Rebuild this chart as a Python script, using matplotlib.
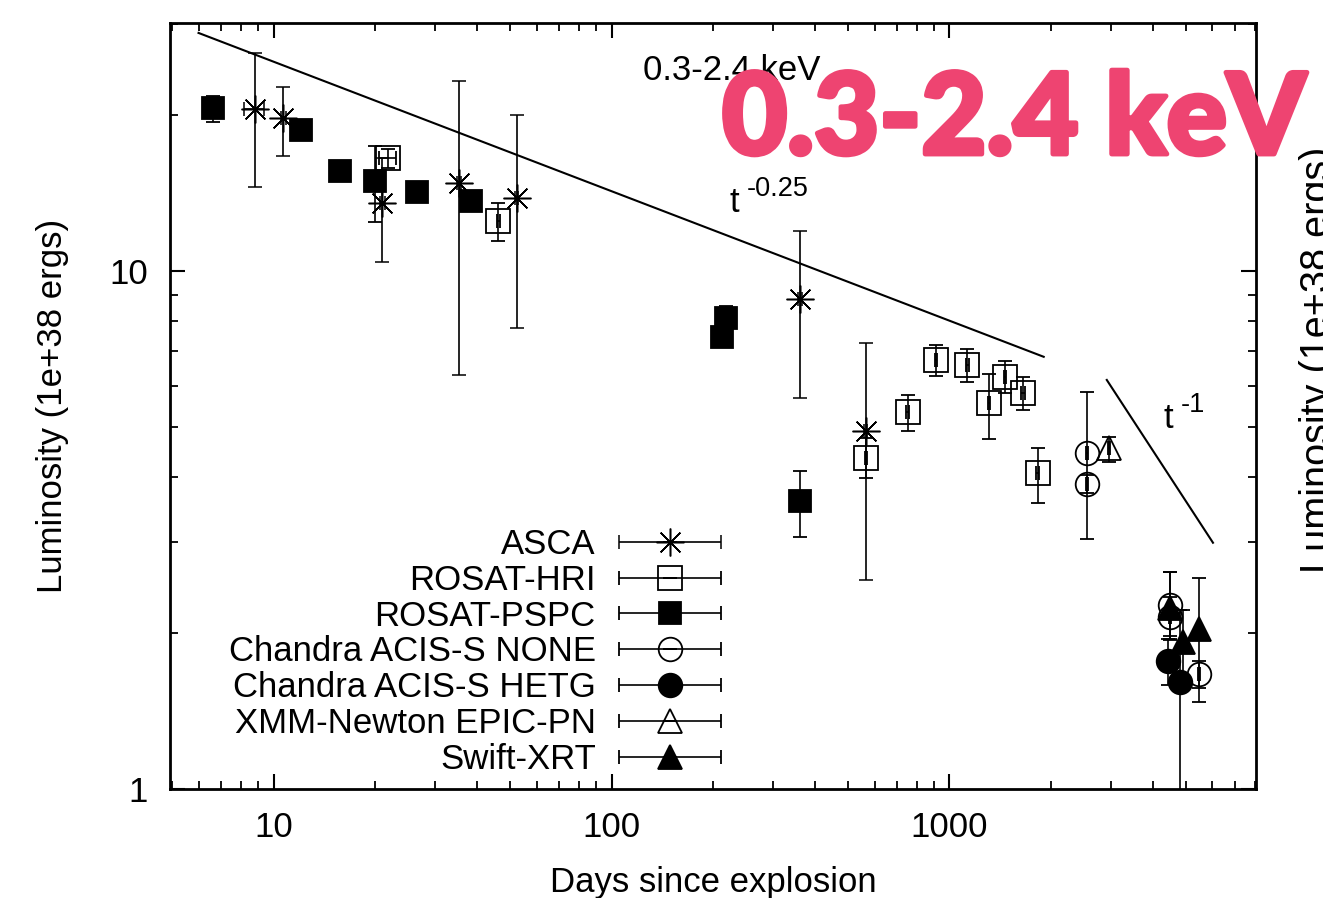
import numpy as np
import matplotlib
matplotlib.use("Agg")
import matplotlib.pyplot as plt
import matplotlib.patheffects as pe
from matplotlib.container import ErrorbarContainer
from matplotlib.legend_handler import HandlerErrorbar
from matplotlib.ticker import FixedLocator, FixedFormatter, LogLocator, NullFormatter

plt.rcParams["font.family"] = ["Liberation Sans", "DejaVu Sans"]

# ---- light curve data: days since explosion, luminosity (1e38 erg/s) ----
asca_days = [8.8, 10.7, 21.0, 35.4, 52.4, 361, 565]
asca_lum = [20.5, 19.7, 13.5, 14.8, 13.85, 8.83, 4.90]
asca_lo = [6.0, 3.0, 3.1, 8.5, 6.1, 3.15, 2.37]
asca_hi = [5.9, 2.9, 3.0, 8.5, 6.15, 3.12, 2.35]
asca_derr = [0.6, 0.2, 0.3, 0.4, 0.5, 4, 6]

hri_days = [21.8, 46.2, 565, 752, 912, 1128, 1311, 1458, 1652, 1823]
hri_lum = [16.5, 12.5, 4.35, 5.35, 6.73, 6.58, 5.55, 6.25, 5.81, 4.07]
hri_lo = [0.7, 1.1, 0.37, 0.43, 0.46, 0.47, 0.81, 0.45, 0.42, 0.50]
hri_hi = [0.7, 1.0, 0.40, 0.42, 0.46, 0.48, 0.77, 0.45, 0.44, 0.49]
hri_derr = [1.3, 0.5, 4, 6, 8, 12, 10, 12, 20, 15]

pspc_days = [6.6, 12.1, 15.75, 19.95, 26.5, 38.4, 211.7, 217.6, 361]
pspc_lum = [20.6, 18.7, 15.6, 14.9, 14.2, 13.65, 7.47, 8.10, 3.59]
pspc_lo = [1.2, 0.3, 0.3, 2.45, 0.3, 0.3, 0.2, 0.3, 0.52]
pspc_hi = [1.2, 0.3, 0.3, 2.5, 0.3, 0.3, 0.2, 0.45, 0.52]
pspc_derr = [0.1, 0.2, 0.2, 0.3, 0.3, 0.4, 2, 2, 3]

none_days = [2555, 2555, 4487, 4480, 5470]
none_lum = [4.46, 3.88, 2.27, 2.15, 1.67]
none_lo = [1.42, 0.15, 0.30, 0.20, 0.10]
none_hi = [1.37, 0.15, 0.35, 0.20, 0.10]
none_derr = [20, 20, 30, 30, 30]

hetg_days = [4436, 4805]
hetg_lum = [1.77, 1.61]
hetg_lo = [0.18, 1.20]
hetg_hi = [0.18, 0.61]
hetg_derr = [30, 30]

xmm_days = [2973]
xmm_lum = [4.55]
xmm_lo = [0.27]
xmm_hi = [0.23]
xmm_derr = [20]

swift_days = [4487, 4894, 5470]
swift_lum = [2.24, 1.92, 2.04]
swift_lo = [0.30, 0.30, 0.57]
swift_hi = [0.38, 0.30, 0.52]
swift_derr = [30, 30, 30]

# power-law guides
early_norm, early_t0, early_index = 28.8, 6.0, -0.25
early_days = np.array([6.0, 1900.0])
late_norm, late_t0, late_index = 6.16, 2920.0, -1.0
late_days = np.array([2920.0, 6020.0])

x_ticks = [10, 100, 1000]
x_ticklabels = ["10", "100", "1000"]
y_ticks = [1, 10]
y_ticklabels = ["1", "10"]

FS = 25

fig = plt.figure(figsize=(13.23, 8.98), dpi=100)
ax = fig.add_axes([170 / 1323, 1 - 789 / 898, (1256 - 170) / 1323, (789 - 23) / 898])
ax.set_xscale("log")
ax.set_yscale("log")
ax.set_xlim(4.94, 8070)
ax.set_ylim(1, 30.1)

common = dict(linestyle="none", ecolor="black", elinewidth=1.2, capsize=5,
              capthick=1.2, color="black", markeredgewidth=1.3)

series = [
    ("ASCA", asca_days, asca_lum, asca_lo, asca_hi, asca_derr,
     dict(marker=(8, 2, 0), markersize=20, markeredgecolor="black", markeredgewidth=1.1)),
    ("ROSAT-HRI", hri_days, hri_lum, hri_lo, hri_hi, hri_derr,
     dict(marker="s", markersize=17, markerfacecolor="none", markeredgecolor="black")),
    ("ROSAT-PSPC", pspc_days, pspc_lum, pspc_lo, pspc_hi, pspc_derr,
     dict(marker="s", markersize=16.5, markerfacecolor="black", markeredgecolor="black")),
    ("Chandra ACIS-S NONE", none_days, none_lum, none_lo, none_hi, none_derr,
     dict(marker="o", markersize=17, markerfacecolor="none", markeredgecolor="black")),
    ("Chandra ACIS-S HETG", hetg_days, hetg_lum, hetg_lo, hetg_hi, hetg_derr,
     dict(marker="o", markersize=17, markerfacecolor="black", markeredgecolor="black")),
    ("XMM-Newton EPIC-PN", xmm_days, xmm_lum, xmm_lo, xmm_hi, xmm_derr,
     dict(marker="^", markersize=17, markerfacecolor="none", markeredgecolor="black")),
    ("Swift-XRT", swift_days, swift_lum, swift_lo, swift_hi, swift_derr,
     dict(marker="^", markersize=17, markerfacecolor="black", markeredgecolor="black")),
]

handles = []
for label, d, l, lo, hi, de, mk in series:
    style = dict(common)
    style.update(mk)
    eb = ax.errorbar(d, l, yerr=[lo, hi], xerr=de, label=label, **style)
    handles.append(eb)

ax.plot(early_days, early_norm * (early_days / early_t0) ** early_index,
        color="black", lw=1.5)
ax.plot(late_days, late_norm * (late_days / late_t0) ** late_index,
        color="black", lw=1.5)

ax.text(124, 23.4, "0.3-2.4 keV", fontsize=FS, ha="left", va="baseline")


def power_label(x, y, exponent):
    ax.text(x, y, "t", fontsize=FS, ha="left", va="baseline")
    ax.annotate(exponent, xy=(x, y), xytext=(12, 11.5), textcoords="offset points",
                fontsize=FS * 0.78, ha="left", va="baseline")


power_label(224, 13.0, "-0.25")
power_label(4300, 4.98, "-1")

# axes styling
for sp in ax.spines.values():
    sp.set_linewidth(2.0)
ax.xaxis.set_major_locator(FixedLocator(x_ticks))
ax.xaxis.set_major_formatter(FixedFormatter(x_ticklabels))
ax.yaxis.set_major_locator(FixedLocator(y_ticks))
ax.yaxis.set_major_formatter(FixedFormatter(y_ticklabels))
ax.xaxis.set_minor_locator(LogLocator(base=10, subs=np.arange(2, 10)))
ax.yaxis.set_minor_locator(LogLocator(base=10, subs=np.arange(2, 10)))
ax.xaxis.set_minor_formatter(NullFormatter())
ax.yaxis.set_minor_formatter(NullFormatter())
ax.tick_params(which="both", direction="in", top=True, right=True, labelsize=FS)
ax.tick_params(which="major", length=11, width=1.5, pad=16)
ax.tick_params(which="minor", length=6, width=1.3)

ax.set_xlabel("Days since explosion", fontsize=FS, labelpad=16)
ax.set_ylabel("Luminosity (1e+38 ergs)", fontsize=FS, labelpad=29)

leg = ax.legend(handles=handles, loc="upper right",
                bbox_to_anchor=((720.7 - 170) / 1086, (789 - 528) / 766),
                frameon=False, markerfirst=False, numpoints=1, fontsize=FS,
                handlelength=2.94, handletextpad=0.66, labelspacing=0.08,
                borderpad=0, borderaxespad=0,
                handler_map={ErrorbarContainer: HandlerErrorbar(xerr_size=1.47, yerr_size=0)})

# neighbouring panel's axis title, running off the right edge
fig.text(1299 / 1323, 1 - 360 / 898, "Luminosity (1e+38 ergs)", rotation=90,
         fontsize=28.5, ha="left", va="center")

pink = "#EE4471"
fig.text(722 / 1323, 1 - 154 / 898, "0.3-2.4 keV", color=pink,
         fontsize=81, fontweight="black", family="Lato", ha="left", va="baseline",
         path_effects=[pe.Stroke(linewidth=3.5, foreground=pink), pe.Normal()])

fig.savefig("out.png", dpi=100)
